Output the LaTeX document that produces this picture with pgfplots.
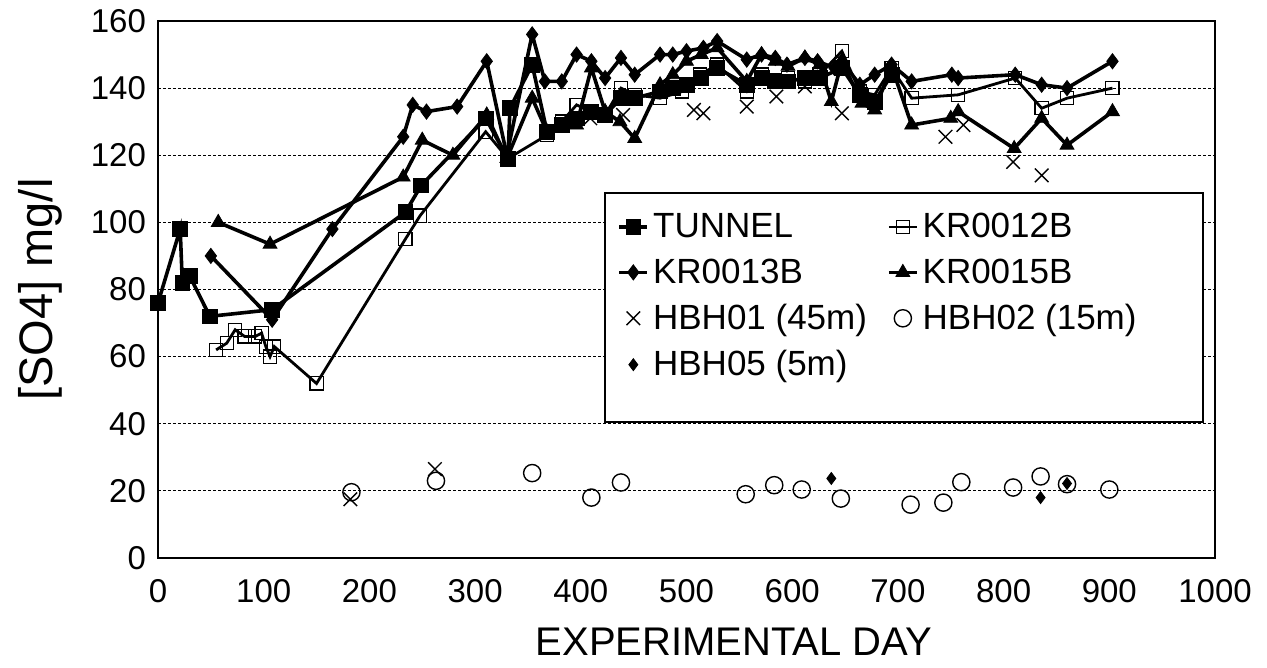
\documentclass[border=0pt]{standalone}
\usepackage{fontspec}
\setmainfont{Liberation Sans}
\usepackage{pgfplots}
\pgfplotsset{compat=1.18}
\usetikzlibrary{calc}

\pgfplotstableread{
x y
0 76
21 98
23 82
30 84
49 72
108 74
234 103
249 111
310 131
331 119
333 134
354 147
368 127
382 129
396 131
410 133
423 132
438 137
451 137
475 139
487 140
500 141
514 143
529 146
557 141
571 143
584 142
596 142
612 143
626 143
647 146
664 138
678 136
694 144
}\tunnel

\pgfplotstableread{
x y
55 62
65 64
73 68
82 66
92 66
98 67
102 63
106 60
110 63
150 52
234 95
248 102
310 127
331 119
368 126
382 130
396 135
410 133
423 132
438 140
451 138
475 137
496 139
513 144
529 147
557 139
571 144
584 142.5
596 143
612 142
626 144
647 151
664 139
678 138
694 146
713 137
757 138
811 143
836 134
860 137
903 140
}\krA

\pgfplotstableread{
x y
50 90
108 71
165 98
232 125.5
241 135
254 133
283 134.5
311 148
330 120
354 156
366 142
382 142
396 150
410 148
423 143
438 149
451 144
475 150
487 150
500 151
516 152
529 154
557 148.5
571 150
584 149
595 147
612 149
624 148
640 146
647 148
664 141
678 144
694 147
713 142
751 144
757 143
811 144
836 141
860 140
903 148
}\krB

\pgfplotstableread{
x y
57 100
106 93.5
232 113.5
250 124.5
279 120
311 132
330 119
354 137
368 127
382 128.5
396 129
410 146
423 133
437 130
451 125
475 141
487 144
500 148
514 150
529 152
557 142
571 150
584 148
596 146.5
612 149
626 147
637 136
647 148
666 135.5
678 133.5
694 146.5
713 129
750 131
757 133
810 122
836 131
860 123
903 133
}\krC

\pgfplotstableread{
x y
182 17.5
262 26.5
409 131
440 132
507 133.5
516 132.5
557 134.5
585 137.5
612 140.5
647 132.5
745 125.5
762 129
809 118
836 114
}\hbhA

\pgfplotstableread{
x y
183 19.6
263 23
354 25.3
410 18
438 22.5
556 19
583 21.7
609 20.4
646 17.7
712 15.9
743 16.5
760 22.6
809 21
835 24.3
860 22
900 20.4
}\hbhB

\pgfplotstableread{
x y
637 23.7
835 18
860 22.2
}\hbhC

\begin{document}
\begin{tikzpicture}
\begin{axis}[
  scale only axis, width=528.5pt, height=268.5pt,
  xmin=0, xmax=1000, ymin=0, ymax=160,
  xtick={0,100,...,1000}, ytick={0,20,...,160},
  /pgf/number format/assume math mode=true,
  /pgf/number format/1000 sep={},
  tick label style={font=\fontsize{16.5}{18}\selectfont},
  major tick length=0pt,
  ymajorgrids,
  grid style={black, line width=0.4pt, dash pattern=on 1.5pt off 1pt},
  axis line style={line width=1pt},
  xticklabel style={yshift=-7pt},
  yticklabel style={xshift=-2.5pt},
  xlabel={EXPERIMENTAL DAY}, ylabel={[SO4] mg/l},
  xlabel style={at={(axis description cs:0.545,0)}, anchor=center, yshift=-42pt, font=\fontsize{20}{24}\selectfont},
  ylabel style={at={(axis description cs:0,0.5)}, anchor=center, yshift=59pt, font=\fontsize{23.5}{26}\selectfont},
  legend columns=2,
  legend cell align=left,
  legend style={at={(axis description cs:0.423,0.68)}, anchor=north west, draw=none, fill=none,
    font=\fontsize{17.5}{20}\selectfont, row sep=5pt, inner xsep=6pt, inner ysep=8pt,
    /tikz/every even column/.append style={column sep=8pt}},
  legend image code/.code={\draw[mark repeat=2,mark phase=2] plot coordinates {(0pt,0pt)(7pt,0pt)(14pt,0pt)};},
]
\draw[line width=0.8pt, fill=white] (axis description cs:0.4229,0.6797) rectangle (axis description cs:0.9886,0.2533);
\addplot[black, line width=1.8pt, mark=square*, mark size=3.7pt, mark options={solid, line width=0.4pt}] table {\tunnel};
\addlegendentry{TUNNEL}
\addplot[black, line width=1.4pt, mark=square, mark size=3.3pt, mark options={solid, fill=white, line width=0.6pt}] table {\krA};
\addlegendentry{KR0012B}
\addplot[black, line width=1.8pt, mark=diamond*, mark size=3.8pt, mark options={solid, line width=0.4pt}] table {\krB};
\addlegendentry{KR0013B}
\addplot[black, line width=1.8pt, mark=triangle*, mark size=4pt, mark options={solid, line width=0.4pt}] table {\krC};
\addlegendentry{KR0015B}
\addplot[black, only marks, mark=x, mark size=4.8pt, mark options={line width=0.7pt}] table {\hbhA};
\addlegendentry{HBH01 (45m)}
\addplot[black, only marks, mark=o, mark size=4.3pt, mark options={line width=0.7pt}] table {\hbhB};
\addlegendentry{HBH02 (15m)}
\addplot[black, only marks, mark=diamond*, mark size=3pt, mark options={line width=0.4pt}] table {\hbhC};
\addlegendentry{HBH05 (5m)}
\end{axis}
\pgfresetboundingbox
\path[use as bounding box] ($(current axis.south west)+(-79pt,-55pt)$) rectangle ($(current axis.north east)+(26pt,10.5pt)$);
\end{tikzpicture}
\end{document}
